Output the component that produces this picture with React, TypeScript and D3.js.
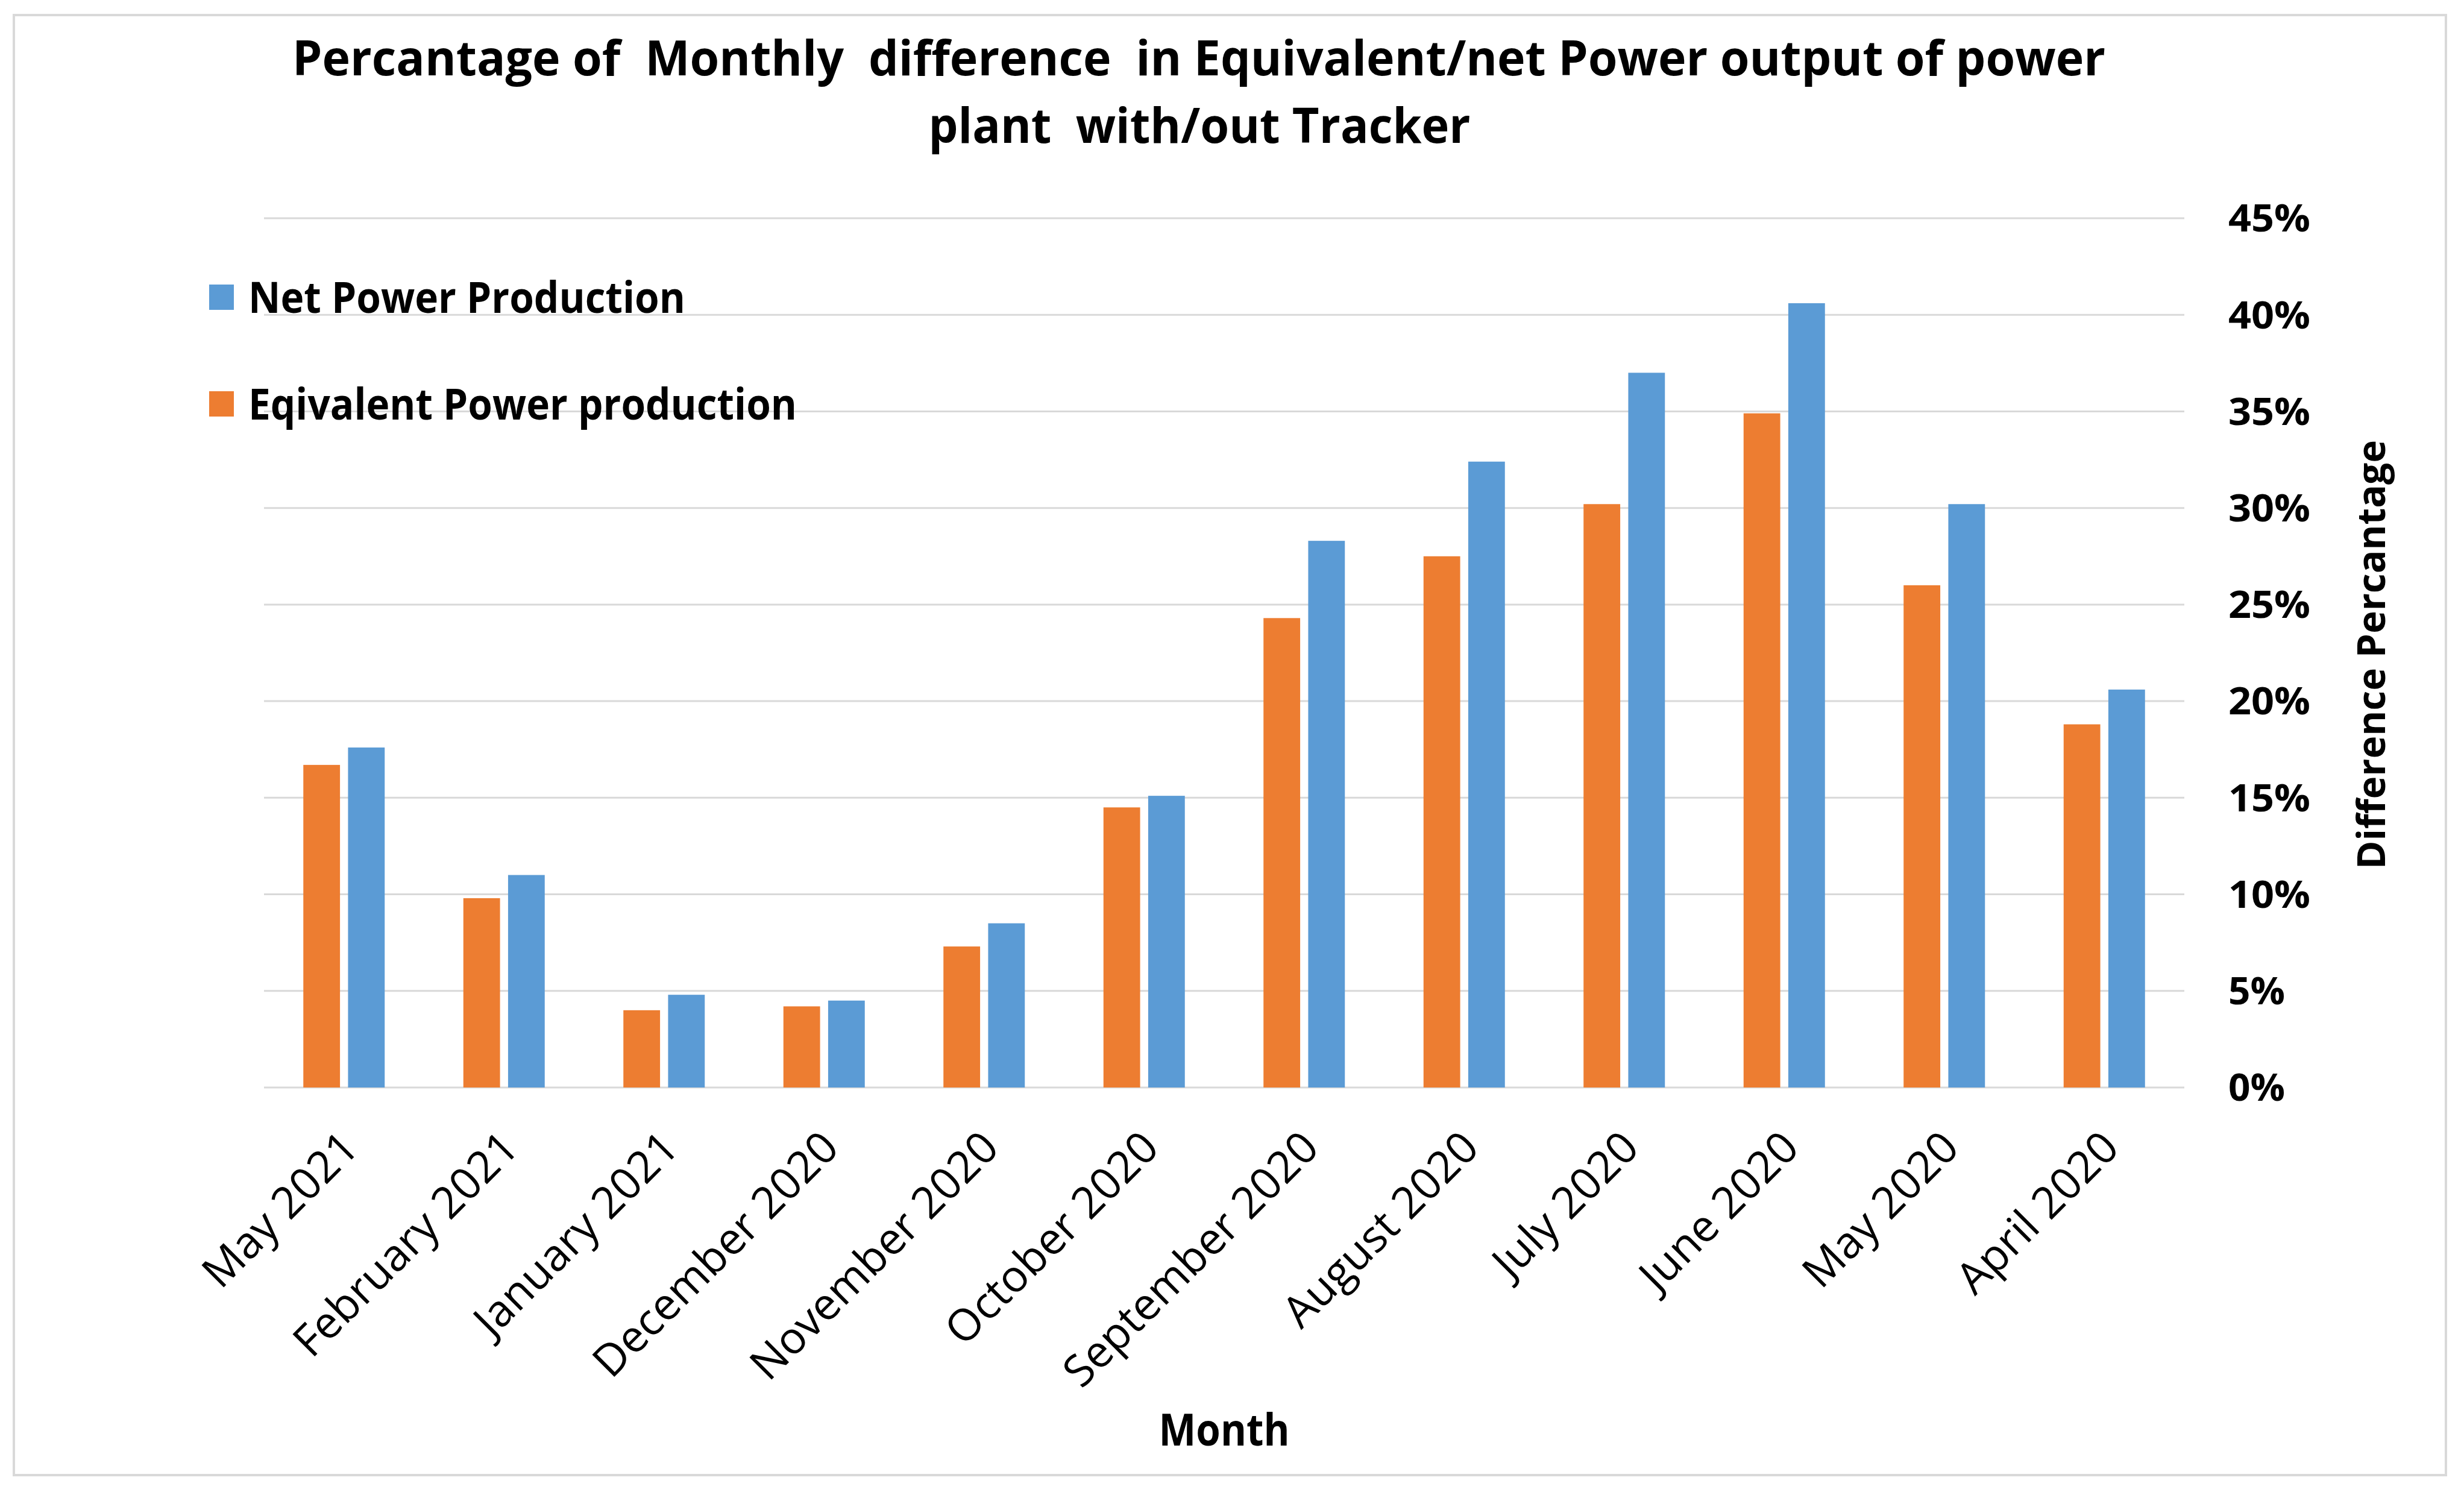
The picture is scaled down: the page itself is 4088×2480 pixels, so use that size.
import React from "react"
import * as d3 from "d3"

// categories as in the source sheet (newest first)
const months = [
  "May 2021",
  "February 2021",
  "January 2021",
  "December 2020",
  "November 2020",
  "October 2020",
  "September 2020",
  "August 2020",
  "July 2020",
  "June 2020",
  "May 2020",
  "April 2020"
]

// percent values
const equivalentPower = [16.7, 9.8, 4.0, 4.2, 7.3, 14.5, 24.3, 27.5, 30.2, 34.9, 26.0, 18.8]
const netPower = [17.6, 11.0, 4.8, 4.5, 8.5, 15.1, 28.3, 32.4, 37.0, 40.6, 30.2, 20.6]

const yTicks = [0, 5, 10, 15, 20, 25, 30, 35, 40, 45]

const seriesNames = ["Eqivalent Power production", "Net Power Production"]
const seriesKeys = ["equivalent", "net"]

const titleLines = [
  "Percantage of  Monthly  difference  in Equivalent/net Power output of power",
  "plant  with/out Tracker"
]

const W = 4088
const H = 2480
const FONT = "'Open Sans', 'Noto Sans', sans-serif"

const colors = {
  equivalent: "#ED7D31",
  net: "#5B9BD5"
}

export default function App() {
  const plot = { left: 438, right: 3624, top: 362, bottom: 1804 }

  const x0 = d3.scaleBand().domain(months).range([plot.left, plot.right]).padding(0)
  const x1 = d3.scaleBand().domain(seriesKeys).range([-67.5, 67.5]).paddingInner(0.18)
  const y = d3.scaleLinear().domain([0, 45]).range([plot.bottom, plot.top])

  const rows = months.map((m, i) => ({
    month: m,
    equivalent: equivalentPower[i],
    net: netPower[i]
  }))

  return (
    <svg
      width={W}
      height={H}
      viewBox={`0 0 ${W} ${H}`}
      style={{ position: "absolute", left: 0, top: 0, background: "#fff" }}
    >
      <rect x={0} y={0} width={W} height={H} fill="#fff" />
      <rect x={23} y={25} width={4035} height={2422} fill="none" stroke="#d9d9d9" strokeWidth={4} />

      {/* title */}
      <text
        x={1989}
        y={125}
        textAnchor="middle"
        fontFamily={FONT}
        fontWeight="bold"
        fontSize={80}
        textLength={3008}
        lengthAdjust="spacingAndGlyphs"
        style={{ whiteSpace: "pre" }}
      >
        {titleLines[0]}
      </text>
      <text
        x={1990}
        y={237}
        textAnchor="middle"
        fontFamily={FONT}
        fontWeight="bold"
        fontSize={80}
        textLength={899}
        lengthAdjust="spacingAndGlyphs"
        style={{ whiteSpace: "pre" }}
      >
        {titleLines[1]}
      </text>

      {/* gridlines */}
      {yTicks.map(t => (
        <line
          key={t}
          x1={plot.left}
          x2={plot.right}
          y1={y(t)}
          y2={y(t)}
          stroke="#d9d9d9"
          strokeWidth={3}
        />
      ))}

      {/* bars */}
      {rows.map(r => (
        <g key={r.month} transform={`translate(${x0(r.month)! + x0.bandwidth() / 2},0)`}>
          {seriesKeys.map(k => (
            <rect
              key={k}
              x={x1(k)}
              y={y(r[k])}
              width={x1.bandwidth()}
              height={y(0) - y(r[k])}
              fill={colors[k]}
            />
          ))}
        </g>
      ))}

      {/* y tick labels on the right */}
      {yTicks.map(t => (
        <text
          key={t}
          x={3697}
          y={y(t)}
          dy="0.36em"
          fontFamily={FONT}
          fontWeight="bold"
          fontSize={62}
          textLength={t < 10 ? 94 : 136}
          lengthAdjust="spacingAndGlyphs"
        >
          {t + "%"}
        </text>
      ))}

      {/* y axis title */}
      <text
        transform={`translate(3957,1086) rotate(-90)`}
        textAnchor="middle"
        fontFamily={FONT}
        fontWeight="bold"
        fontSize={64}
        textLength={712}
        lengthAdjust="spacingAndGlyphs"
      >
        Difference Percantage
      </text>

      {/* x tick labels */}
      {months.map(m => {
        const cx = x0(m)! + x0.bandwidth() / 2 + 28
        const cy = plot.bottom + 104
        return (
          <text
            key={m}
            transform={`translate(${cx},${cy}) rotate(-45)`}
            textAnchor="end"
            fontFamily={FONT}
            fontWeight={500}
            fontSize={73}
          >
            {m}
          </text>
        )
      })}

      {/* x axis title */}
      <text
        x={2031}
        y={2398}
        textAnchor="middle"
        fontFamily={FONT}
        fontWeight="bold"
        fontSize={73}
        textLength={217}
        lengthAdjust="spacingAndGlyphs"
      >
        Month
      </text>

      {/* legend */}
      {[
        { key: "net", name: seriesNames[1], y: 472, w: 725 },
        { key: "equivalent", name: seriesNames[0], y: 649, w: 910 }
      ].map(d => (
        <g key={d.key}>
          <rect x={347} y={d.y} width={41} height={42} fill={colors[d.key]} />
          <text
            x={412}
            y={d.y + 47}
            fontFamily={FONT}
            fontWeight="bold"
            fontSize={72}
            textLength={d.w}
            lengthAdjust="spacingAndGlyphs"
          >
            {d.name}
          </text>
        </g>
      ))}
    </svg>
  )
}
